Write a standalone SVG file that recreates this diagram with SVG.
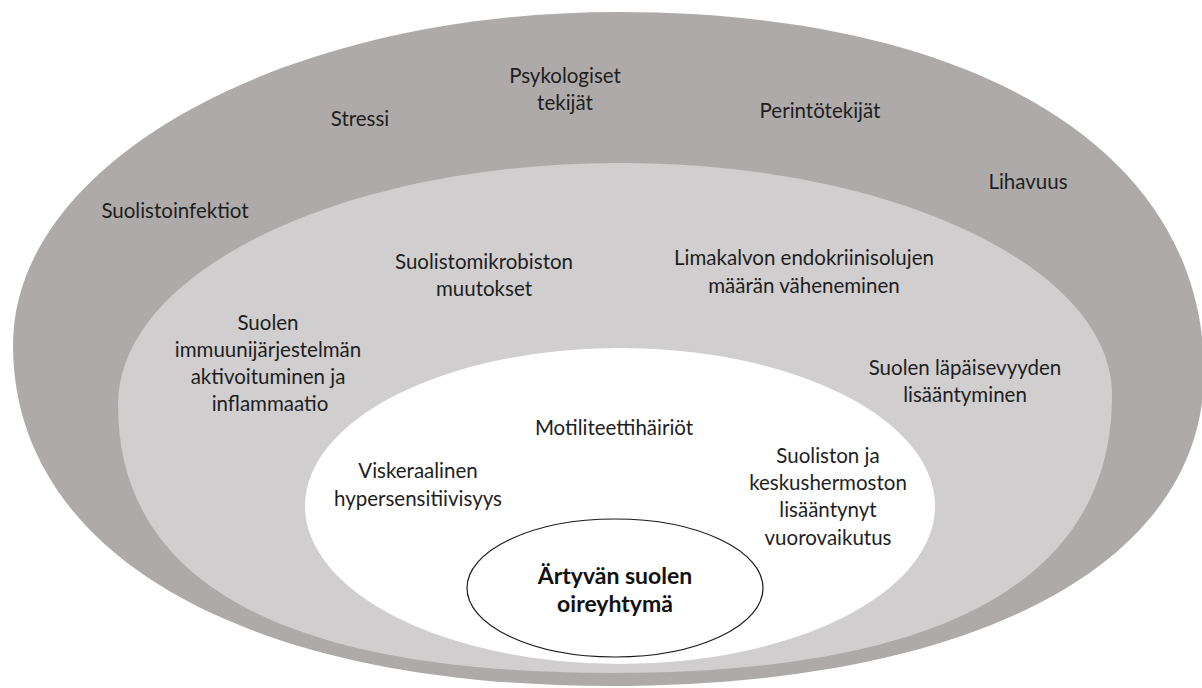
<svg xmlns="http://www.w3.org/2000/svg" width="1202" height="688" viewBox="0 0 1202 688">
  <style>
    .lbl { font-family: Lato, "Liberation Sans", sans-serif; font-size: 20.5px; fill: #1e1e1e; text-anchor: middle; }
    .core { font-family: Lato, "Liberation Sans", sans-serif; font-size: 23px; font-weight: bold; fill: #111; text-anchor: middle; }
    .outer { fill: #AEAAAA; }
    .middle { fill: #D0CECE; }
    .inner { fill: #FFFFFF; }
    .center { fill: #FFFFFF; stroke: #1a1a1a; stroke-width: 1.2; }
  </style>
  <rect width="1202" height="688" fill="#FFFFFF"/>

  <g id="outer-ring">
    <path class="outer" d="M13,345 C13,161 284,12 618,12 C977,12 1204,151 1204,372 C1204,564 974,686 610,686 C244,686 13,554 13,345 Z"/>
    <text class="lbl" x="565" y="83">Psykologiset</text>
    <text class="lbl" x="565" y="110">tekijät</text>
    <text class="lbl" x="360" y="126">Stressi</text>
    <text class="lbl" x="820" y="118">Perintötekijät</text>
    <text class="lbl" x="1028" y="189">Lihavuus</text>
    <text class="lbl" x="175" y="218">Suolistoinfektiot</text>
  </g>

  <g id="middle-ring">
    <path class="middle" d="M118,405 C118,271 343,163 620,163 C892,163 1112,267 1112,395 C1112,580 944,673 612,673 C284,673 118,583 118,405 Z"/>
    <text class="lbl" x="484" y="269">Suolistomikrobiston</text>
    <text class="lbl" x="484" y="296">muutokset</text>
    <text class="lbl" x="804" y="265">Limakalvon endokriinisolujen</text>
    <text class="lbl" x="804" y="293">määrän väheneminen</text>
    <text class="lbl" x="268" y="330">Suolen</text>
    <text class="lbl" x="268" y="357">immuunijärjestelmän</text>
    <text class="lbl" x="268" y="384">aktivoituminen ja</text>
    <text class="lbl" x="270" y="411">inflammaatio</text>
    <text class="lbl" x="965" y="375">Suolen läpäisevyyden</text>
    <text class="lbl" x="965" y="402">lisääntyminen</text>
  </g>

  <g id="inner-ring">
    <ellipse class="inner" cx="620" cy="506" rx="315" ry="158"/>
    <text class="lbl" x="614" y="435">Motiliteettihäiriöt</text>
    <text class="lbl" x="418" y="478">Viskeraalinen</text>
    <text class="lbl" x="418" y="506">hypersensitiivisyys</text>
    <text class="lbl" x="828" y="463">Suoliston ja</text>
    <text class="lbl" x="828" y="490">keskushermoston</text>
    <text class="lbl" x="828" y="517">lisääntynyt</text>
    <text class="lbl" x="828" y="545">vuorovaikutus</text>
  </g>

  <g id="core">
    <ellipse class="center" cx="615" cy="588" rx="148" ry="69"/>
    <text class="core" x="615" y="584">Ärtyvän suolen</text>
    <text class="core" x="615" y="612">oireyhtymä</text>
  </g>

  <g id="connectors"/>
</svg>
